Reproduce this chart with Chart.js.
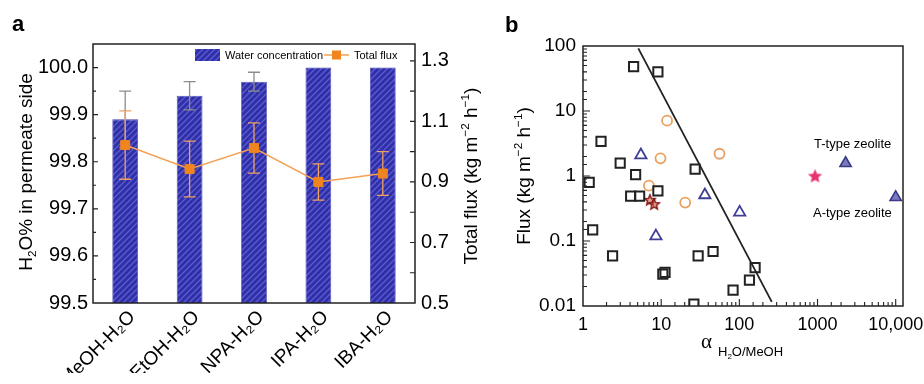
<!DOCTYPE html>
<html><head><meta charset="utf-8">
<script src="https://cdn.jsdelivr.net/npm/chart.js@4.4.0/dist/chart.umd.min.js"></script>
<style>
html,body{margin:0;padding:0;background:#fff;}
#wrap{position:relative;width:924px;height:384px;overflow:hidden;}
canvas{position:absolute;left:0;top:0;}
</style></head><body>
<div id="wrap"><canvas id="ca" width="924" height="384"></canvas><canvas id="cb" width="924" height="384"></canvas></div>
<script>
// ---------- Panel a data ----------
const solvents = ['MeOH-H₂O','EtOH-H₂O','NPA-H₂O','IPA-H₂O','IBA-H₂O'];
const waterConc = [99.89, 99.94, 99.97, 100.0, 100.0];
const waterErr  = [0.06, 0.03, 0.02, 0, 0];
const totalFlux = [1.022, 0.943, 1.012, 0.90, 0.928];
const fluxErr   = [0.113, 0.092, 0.083, 0.06, 0.072];
const leftTickValues  = [99.5, 99.55, 99.6, 99.65, 99.7, 99.75, 99.8, 99.85, 99.9, 99.95, 100.0];
const leftAxisLabels  = ['99.5','99.6','99.7','99.8','99.9','100.0'];
const rightTickValues = [0.5, 0.6, 0.7, 0.8, 0.9, 1.0, 1.1, 1.2, 1.3];
const rightAxisLabels = ['0.5','0.7','0.9','1.1','1.3'];

// ---------- Panel b data ----------
const squareX = [4.44, 9.08, 1.70, 2.99, 4.71, 27.2, 1.20, 4.07, 5.30, 9.08, 1.33, 2.39, 29.7, 46.1, 10.5, 11.2, 159, 134.6, 83.1, 26.2];
const squareY = [48, 40, 3.4, 1.58, 1.05, 1.28, 0.80, 0.49, 0.49, 0.59, 0.148, 0.059, 0.059, 0.069, 0.031, 0.033, 0.039, 0.025, 0.0176, 0.0107];
const circleX = [11.9, 9.8, 55.7, 6.97, 20.3];
const circleY = [7.1, 1.87, 2.2, 0.71, 0.39];
const triX = [5.5, 36.2, 101, 8.56];
const triY = [2.1, 0.51, 0.276, 0.119];
const zeoliteX = [2285, 10000];
const zeoliteY = [1.57, 0.47];
const tStarX = [930];
const tStarY = [1.0];
const redStarX = [7.17, 8.14];
const redStarY = [0.43, 0.37];
const boundX = [5.1, 260];
const boundY = [92, 0.0116];
const xTickLabels = ['1','10','100','1000','10,000'];
const yTickLabels = ['0.01','0.1','1','10','100'];

const FAM = '"Liberation Sans", Arial, sans-serif';
Chart.defaults.font.family = FAM;
Chart.defaults.color = '#000';

const pts = (xs, ys) => xs.map((x, i) => ({x, y: ys[i]}));

function makeHatch(ctx){
  const c = document.createElement('canvas'); c.width = 6; c.height = 6;
  const g = c.getContext('2d');
  g.fillStyle = '#2f2fa8'; g.fillRect(0,0,6,6);
  g.strokeStyle = '#5c5cd0'; g.lineWidth = 1.3;
  g.beginPath();
  g.moveTo(0,6); g.lineTo(6,0);
  g.moveTo(-3,3); g.lineTo(3,-3);
  g.moveTo(3,9); g.lineTo(9,3);
  g.stroke();
  return ctx.createPattern(c, 'repeat');
}
function starImg(size, fill, stroke, lw){
  const c = document.createElement('canvas'); c.width = c.height = size;
  const g = c.getContext('2d');
  const cx = size/2, cy = size/2 + 0.5, R = size/2 - lw, r = R*0.45;
  g.beginPath();
  for (let i = 0; i < 10; i++){
    const a = -Math.PI/2 + i*Math.PI/5, rr = i % 2 ? r : R;
    g.lineTo(cx + rr*Math.cos(a), cy + rr*Math.sin(a));
  }
  g.closePath();
  if (fill){ g.fillStyle = fill; g.fill(); }
  if (stroke){ g.strokeStyle = stroke; g.lineWidth = lw; g.stroke(); }
  return c;
}
function drawRich(ctx, segs, x, y, rot, size){
  ctx.save(); ctx.translate(x, y); ctx.rotate(rot);
  const sizes = segs.map(s => s[1] ? size*0.62 : size);
  let total = 0; const widths = [];
  segs.forEach((s,i) => { ctx.font = sizes[i] + 'px ' + FAM; const w = ctx.measureText(s[0]).width; widths.push(w); total += w; });
  let cx = -total/2;
  ctx.textBaseline = 'alphabetic'; ctx.textAlign = 'left'; ctx.fillStyle = '#000';
  segs.forEach((s,i) => {
    ctx.font = sizes[i] + 'px ' + FAM;
    const dy = s[1] === 1 ? size*0.22 : s[1] === 2 ? -size*0.42 : 0;
    ctx.fillText(s[0], cx, dy + size*0.35);
    cx += widths[i];
  });
  ctx.restore();
}
function near(v, step){ return Math.abs(v/step - Math.round(v/step)) < 1e-6; }
function isPow10(v){ const l = Math.log10(v); return Math.abs(l - Math.round(l)) < 1e-6; }

// ---------- Panel a ----------
const ctxA = document.getElementById('ca').getContext('2d');
const hatch = makeHatch(ctxA);

const panelA = {
  id: 'panelA',
  beforeDatasetDraw(chart, args){
    if (args.index !== 1) return;
    const c = chart.ctx, x = chart.scales.x, y = chart.scales.y, y1 = chart.scales.y1;
    c.save();
    c.lineWidth = 1.3;
    c.strokeStyle = '#8c8c8c';
    waterConc.forEach((v, i) => {
      const e = waterErr[i]; if (!e) return;
      const px = x.getPixelForValue(i), t = y.getPixelForValue(v + e), b = y.getPixelForValue(v - e);
      c.beginPath(); c.moveTo(px, t); c.lineTo(px, b);
      c.moveTo(px-6, t); c.lineTo(px+6, t); c.moveTo(px-6, b); c.lineTo(px+6, b); c.stroke();
    });
    c.strokeStyle = '#f0a060';
    totalFlux.forEach((v, i) => {
      const e = fluxErr[i];
      const px = x.getPixelForValue(i), t = y1.getPixelForValue(v + e), b = y1.getPixelForValue(v - e);
      c.beginPath(); c.moveTo(px, t); c.lineTo(px, b);
      c.moveTo(px-6, t); c.lineTo(px+6, t); c.moveTo(px-6, b); c.lineTo(px+6, b); c.stroke();
    });
    c.restore();
  },
  afterDraw(chart){
    const c = chart.ctx, a = chart.chartArea, y = chart.scales.y, y1 = chart.scales.y1;
    c.save();
    c.strokeStyle = '#222'; c.lineWidth = 1.5;
    c.strokeRect(a.left, a.top, a.right - a.left, a.bottom - a.top);
    c.lineWidth = 1.2;
    c.beginPath();
    y.ticks.forEach(t => {
      const py = y.getPixelForValue(t.value); if (py < a.top + 1 || py > a.bottom - 1) return;
      const L = near(t.value, 0.1) ? 5 : 3;
      c.moveTo(a.left, py); c.lineTo(a.left + L, py);
    });
    y1.ticks.forEach(t => {
      const py = y1.getPixelForValue(t.value); if (py < a.top + 1 || py > a.bottom - 1) return;
      c.moveTo(a.right, py); c.lineTo(a.right - 5, py);
    });
    c.stroke();
    // legend
    c.fillStyle = hatch; c.fillRect(195, 49, 25, 12);
    c.fillStyle = '#000'; c.font = '11px ' + FAM; c.textBaseline = 'middle'; c.textAlign = 'left';
    c.fillText('Water concentration', 225, 55.5);
    c.strokeStyle = '#f5a055'; c.lineWidth = 1.5;
    c.beginPath(); c.moveTo(324, 55); c.lineTo(349, 55); c.stroke();
    c.fillStyle = '#f0841e'; c.fillRect(332, 50.5, 9, 9);
    c.fillStyle = '#000'; c.fillText('Total flux', 354, 55.5);
    // titles
    drawRich(c, [['H',0],['2',1],['O% in permeate side',0]], 25, 172, -Math.PI/2, 19);
    drawRich(c, [['Total flux (kg m',0],['−2',2],[' h',0],['−1',2],[')',0]], 470, 176, -Math.PI/2, 19);
    c.font = 'bold 22px ' + FAM; c.fillStyle = '#000'; c.textBaseline = 'alphabetic';
    c.fillText('a', 12, 31);
    c.restore();
  }
};

new Chart(ctxA, {
  type: 'bar',
  data: {
    labels: solvents,
    datasets: [
      { type: 'bar', label: 'Water concentration', data: waterConc, yAxisID: 'y', order: 1,
        backgroundColor: hatch, borderColor: '#4040b0', borderWidth: 0.8,
        barPercentage: 0.4, categoryPercentage: 1.0 },
      { type: 'line', label: 'Total flux', data: totalFlux, yAxisID: 'y1', order: 0,
        borderColor: '#f5a055', borderWidth: 1.5, pointStyle: 'rect', pointRadius: 6.4,
        pointBackgroundColor: '#f0841e', pointBorderColor: '#f0841e', pointBorderWidth: 1 }
    ]
  },
  options: {
    responsive: false, animation: false, events: [],
    layout: { padding: { left: 33, top: 44, right: 464, bottom: 11 } },
    plugins: { legend: { display: false }, tooltip: { enabled: false } },
    scales: {
      x: { grid: { display: false, drawTicks: false }, border: { display: false },
           ticks: { font: { size: 19 }, minRotation: 45, maxRotation: 45, padding: 3, labelOffset: 7, color: '#000' },
           afterFit: s => { s.height = 70; } },
      y: { position: 'left', min: 99.5, max: 100.05,
           grid: { display: false, drawTicks: false }, border: { display: false },
           afterBuildTicks: s => { s.ticks = leftTickValues.map(v => ({value: v})); },
           ticks: { autoSkip: false, padding: 5, font: { size: 20 }, color: '#000',
             callback: v => near(v, 0.1) ? (leftAxisLabels[Math.round((v - 99.5)*10)] || '') : '' },
           afterFit: s => { s.width = 60; } },
      y1: { position: 'right', min: 0.5, max: 1.356,
           grid: { display: false, drawTicks: false }, border: { display: false },
           afterBuildTicks: s => { s.ticks = rightTickValues.map(v => ({value: v})); },
           ticks: { autoSkip: false, padding: 6, font: { size: 20 }, color: '#000',
             callback: v => { const k = Math.round((v - 0.5)*10); return k % 2 === 0 ? (rightAxisLabels[k/2] || '') : ''; } },
           afterFit: s => { s.width = 45; } }
    }
  },
  plugins: [panelA]
});

// ---------- Panel b ----------
const ctxB = document.getElementById('cb').getContext('2d');
const pinkStar = starImg(17, '#e8336e', null, 1);
const redStar = starImg(14, 'rgba(205,90,70,0.55)', '#8b1a1a', 1.5);

const panelB = {
  id: 'panelB',
  afterDraw(chart){
    const c = chart.ctx, a = chart.chartArea, x = chart.scales.x, y = chart.scales.y;
    c.save();
    c.strokeStyle = '#222'; c.lineWidth = 1.5;
    c.strokeRect(a.left, a.top, a.right - a.left, a.bottom - a.top);
    c.lineWidth = 1.1;
    c.beginPath();
    x.ticks.forEach(t => {
      const px = x.getPixelForValue(t.value); if (px <= a.left + 1 || px >= a.right - 1) return;
      const L = isPow10(t.value) ? 7 : 4;
      c.moveTo(px, a.bottom); c.lineTo(px, a.bottom - L);
    });
    y.ticks.forEach(t => {
      const py = y.getPixelForValue(t.value); if (py <= a.top + 1 || py >= a.bottom - 1) return;
      const L = isPow10(t.value) ? 7 : 4;
      c.moveTo(a.left, py); c.lineTo(a.left + L, py);
    });
    c.stroke();
    c.fillStyle = '#000'; c.textAlign = 'left'; c.textBaseline = 'alphabetic';
    c.font = '13px ' + FAM;
    c.fillText('T-type zeolite', 814, 148);
    c.fillText('A-type zeolite', 813, 217);
    // x title
    c.font = '21px "Liberation Serif", "Times New Roman", serif';
    c.fillText('α', 701, 348);
    c.font = '13px ' + FAM; c.fillText('H', 718, 356);
    const w = c.measureText('H').width;
    c.font = '8px ' + FAM; c.fillText('2', 718 + w, 359);
    const w2 = c.measureText('2').width;
    c.font = '13px ' + FAM; c.fillText('O/MeOH', 718 + w + w2, 356);
    drawRich(c, [['Flux (kg m',0],['−2',2],[' h',0],['−1',2],[')',0]], 523, 176, -Math.PI/2, 19);
    c.font = 'bold 22px ' + FAM;
    c.fillText('b', 505, 32);
    c.restore();
  }
};

new Chart(ctxB, {
  type: 'scatter',
  data: {
    datasets: [
      { type: 'line', data: pts(boundX, boundY), borderColor: '#222', borderWidth: 1.8, pointRadius: 0, fill: false },
      { data: pts(squareX, squareY), pointStyle: 'rect', pointRadius: 6.5, backgroundColor: 'rgba(0,0,0,0)', borderColor: '#222', borderWidth: 2 },
      { data: pts(circleX, circleY), pointStyle: 'circle', pointRadius: 5, backgroundColor: 'rgba(0,0,0,0)', borderColor: '#e9a060', borderWidth: 1.8 },
      { data: pts(triX, triY), pointStyle: 'triangle', pointRadius: 6.5, backgroundColor: 'rgba(0,0,0,0)', borderColor: '#3e3e98', borderWidth: 1.8 },
      { data: pts(zeoliteX, zeoliteY), pointStyle: 'triangle', pointRadius: 6.5, backgroundColor: '#7a7ac2', borderColor: '#3b3b85', borderWidth: 1.6 },
      { data: pts(tStarX, tStarY), pointStyle: pinkStar, pointRadius: 8 },
      { data: pts(redStarX, redStarY), pointStyle: redStar, pointRadius: 7 }
    ]
  },
  options: {
    responsive: false, animation: false, events: [],
    layout: { padding: { left: 533, top: 46, right: 21, bottom: 48 } },
    plugins: { legend: { display: false }, tooltip: { enabled: false } },
    scales: {
      x: { type: 'logarithmic', min: 1, max: 12400,
           grid: { display: false, drawTicks: false }, border: { display: false },
           ticks: { autoSkip: false, maxRotation: 0, minRotation: 0, padding: 8, font: { size: 18 }, color: '#000',
             callback: v => isPow10(v) ? (xTickLabels[Math.round(Math.log10(v))] || '') : '' },
           afterFit: s => { s.height = 30; } },
      y: { type: 'logarithmic', min: 0.01, max: 100,
           grid: { display: false, drawTicks: false }, border: { display: false },
           ticks: { autoSkip: false, padding: 7, font: { size: 19 }, color: '#000',
             callback: v => isPow10(v) ? (yTickLabels[Math.round(Math.log10(v)) + 2] || '') : '' },
           afterFit: s => { s.width = 50; } }
    }
  },
  plugins: [panelB]
});
</script>
</body></html>
